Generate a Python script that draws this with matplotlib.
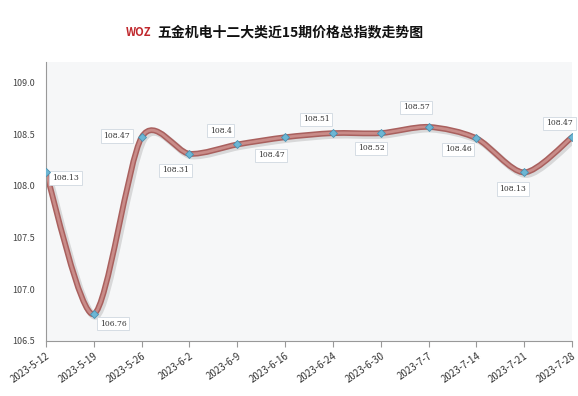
import numpy as np
import matplotlib
matplotlib.use("Agg")
import matplotlib.pyplot as plt
from matplotlib.path import Path
from matplotlib.patches import PathPatch
import matplotlib.transforms as mtransforms

plt.rcParams['font.family'] = ['Noto Sans CJK SC', 'DejaVu Sans']

# données
dates = ["2023-5-12", "2023-5-19", "2023-5-26", "2023-6-2", "2023-6-9", "2023-6-16",
         "2023-6-24", "2023-6-30", "2023-7-7", "2023-7-14", "2023-7-21", "2023-7-28"]
valeurs = [108.13, 106.76, 108.47, 108.31, 108.40, 108.47,
           108.51, 108.51, 108.57, 108.46, 108.13, 108.47]
etiquettes = ["108.13", "106.76", "108.47", "108.31", "108.4", "108.47",
              "108.51", "108.52", "108.57", "108.46", "108.13", "108.47"]
titre = "五金机电十二大类近15期价格总指数走势图"

# décalage des étiquettes (points)
decal = [(14, -4), (14, -7), (-18, 1), (-10, -12), (-12, 10), (-10, -13),
         (-12, 10), (-7, -11), (-9, 14), (-13, -8), (-8, -12), (-9, 10)]

fig = plt.figure(figsize=(5.78, 3.96), dpi=100)
ax = fig.add_axes([0.0796, 0.139, 0.91, 0.705])
ax.set_facecolor("#f6f7f8")

x = np.arange(len(valeurs))
y = np.array(valeurs)

# courbe lissée (Catmull-Rom -> Bézier)
k = 0.14
verts = [(x[0], y[0])]
codes = [Path.MOVETO]
for i in range(len(x) - 1):
    p0 = (x[i - 1], y[i - 1]) if i > 0 else (x[i], y[i])
    p1 = (x[i], y[i])
    p2 = (x[i + 1], y[i + 1])
    p3 = (x[i + 2], y[i + 2]) if i + 2 < len(x) else p2
    c1 = (p1[0] + (p2[0] - p0[0]) * k, p1[1] + (p2[1] - p0[1]) * k)
    c2 = (p2[0] - (p3[0] - p1[0]) * k, p2[1] - (p3[1] - p1[1]) * k)
    verts += [c1, c2, p2]
    codes += [Path.CURVE4] * 3
chemin = Path(verts, codes)

# ombre
decale = ax.transData + mtransforms.ScaledTranslation(1.5 / 72, -1.5 / 72, fig.dpi_scale_trans)
ax.add_patch(PathPatch(chemin, facecolor="none", lw=5, edgecolor="#000000", alpha=0.12,
                       capstyle="round", joinstyle="round", transform=decale))
ax.add_patch(PathPatch(chemin, facecolor="none", lw=4.2, edgecolor="#a9605e",
                       capstyle="round", joinstyle="round"))
ax.add_patch(PathPatch(chemin, facecolor="none", lw=2, edgecolor="#c98c89",
                       capstyle="round", joinstyle="round"))

ax.plot(x, y, ls="none", marker="D", ms=4.5, mfc="#6cb6d4", mec="#4a90b0", mew=0.6, zorder=5)

for i in range(len(x)):
    ax.annotate(etiquettes[i], (x[i], y[i]), xytext=decal[i], textcoords="offset points",
                ha="center", va="center", fontsize=5.5, color="#333333",
                family=["DejaVu Serif"],
                bbox=dict(boxstyle="square,pad=0.35", fc="#ffffff", ec="#d0d8e0", lw=0.6))

ax.set_xlim(0, len(x) - 1)
ax.set_ylim(106.5, 109.2)
ax.set_yticks([106.5, 107.0, 107.5, 108.0, 108.5, 109.0])
ax.set_yticklabels(["106.5", "107.0", "107.5", "108.0", "108.5", "109.0"], fontsize=6.5, color="#444444")
ax.set_xticks(x)
ax.set_xticklabels(dates, rotation=35, ha="right", rotation_mode="anchor", fontsize=7, color="#333333")
ax.tick_params(axis="y", length=0, pad=8)
ax.tick_params(axis="x", length=4, color="#999999", pad=3)
for s in ["top", "right"]:
    ax.spines[s].set_visible(False)
ax.spines["left"].set_color("#999999")
ax.spines["bottom"].set_color("#999999")

fig.text(0.239, 0.918, "WOZ", color="#c0282d", fontsize=8, fontweight="bold",
         fontstyle="italic", ha="center", va="center")
fig.text(0.502, 0.918, titre, fontsize=10, fontweight="bold", ha="center", va="center", color="#111111")

fig.savefig("out.png", dpi=100)
